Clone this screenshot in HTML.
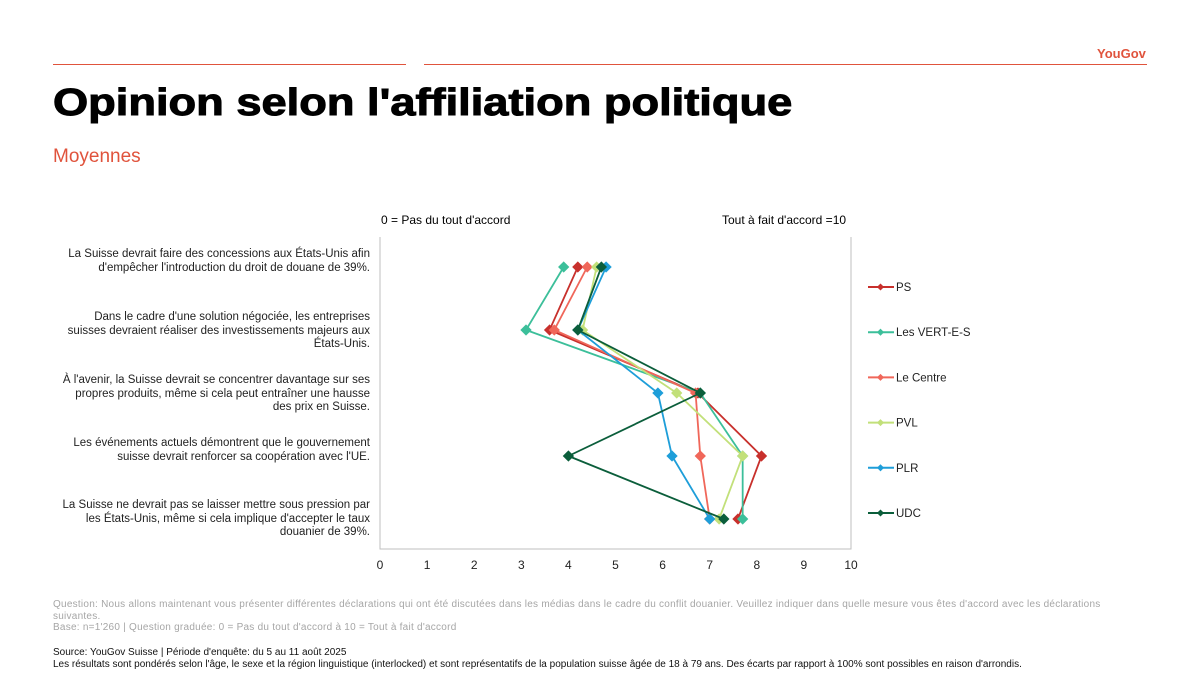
<!DOCTYPE html>
<html><head><meta charset="utf-8"><style>
body{margin:0;width:1200px;height:675px;background:#fff;font-family:"Liberation Sans",Arial,sans-serif;position:relative;overflow:hidden}
.a{position:absolute}
.lbl{position:absolute;right:830px;width:312px;text-align:right;font-size:11.5px;line-height:13.5px;color:#222}
</style></head><body>
<div class="a" style="left:53px;top:64px;width:353px;height:1px;background:#e0533c"></div>
<div class="a" style="left:424px;top:64px;width:723px;height:1px;background:#e0533c"></div>
<div class="a" style="left:1097px;top:46px;font-size:13px;font-weight:bold;color:#e0533c">YouGov</div>
<div class="a" style="left:53px;top:82px;font-size:38px;font-weight:bold;color:#000;transform-origin:0 0;transform:scaleX(1.19);-webkit-text-stroke:1px #000">Opinion selon l'affiliation politique</div>
<div class="a" style="left:53px;top:146px;font-size:19px;color:#e0533c">Moyennes</div>
<div class="a" style="left:381px;top:213px;font-size:12px">0 = Pas du tout d'accord</div>
<div class="a" style="left:722px;top:213px;font-size:12px">Tout à fait d'accord =10</div>
<div class="lbl" style="top:248px">La Suisse devrait faire des concessions aux États-Unis afin d'empêcher l'introduction du droit de douane de 39%.</div>
<div class="lbl" style="top:311px">Dans le cadre d'une solution négociée, les entreprises suisses devraient réaliser des investissements majeurs aux États-Unis.</div>
<div class="lbl" style="top:374px">À l'avenir, la Suisse devrait se concentrer davantage sur ses propres produits, même si cela peut entraîner une hausse des prix en Suisse.</div>
<div class="lbl" style="top:437px">Les événements actuels démontrent que le gouvernement suisse devrait renforcer sa coopération avec l'UE.</div>
<div class="lbl" style="top:499px">La Suisse ne devrait pas se laisser mettre sous pression par les États-Unis, même si cela implique d'accepter le taux douanier de 39%.</div>
<svg class="a" style="left:0;top:0" width="1200" height="675" id="svg"></svg>
<div class="a" style="left:53px;top:599px;width:1090px;font-size:10px;line-height:11.5px;color:#a6a6a6;letter-spacing:0.25px">Question: Nous allons maintenant vous présenter différentes déclarations qui ont été discutées dans les médias dans le cadre du conflit douanier. Veuillez indiquer dans quelle mesure vous êtes d'accord avec les déclarations suivantes.<br>Base: n=1'260 | Question graduée: 0 = Pas du tout d'accord à 10 = Tout à fait d'accord</div>
<div class="a" style="left:53px;top:647px;width:1100px;font-size:10px;line-height:11.5px;color:#111">Source: YouGov Suisse | Période d'enquête: du 5 au 11 août 2025<br>Les résultats sont pondérés selon l'âge, le sexe et la région linguistique (interlocked) et sont représentatifs de la population suisse âgée de 18 à 79 ans. Des écarts par rapport à 100% sont possibles en raison d'arrondis.</div>
<script>
const series=["PS","Les VERT-E-S","Le Centre","PVL","PLR","UDC"];
const colors=["#c8302c","#3cbf9a","#f0675a","#c2e07a","#1e9ed9","#0b5e3b"];
const PS=[4.2,3.6,6.75,8.1,7.6];
const VERT=[3.9,3.1,6.8,7.7,7.7];
const CENTRE=[4.4,3.7,6.7,6.8,7.0];
const PVL=[4.6,4.3,6.3,7.7,7.2];
const PLR=[4.8,4.2,5.9,6.2,7.0];
const UDC=[4.7,4.2,6.8,4.0,7.3];
const ticks=[0,1,2,3,4,5,6,7,8,9,10];
const values=[PS,VERT,CENTRE,PVL,PLR,UDC];
const ns="http://www.w3.org/2000/svg",svg=document.getElementById('svg');
const x=v=>380+v*47.1, y=i=>267+i*63;
function mk(t,a){const e=document.createElementNS(ns,t);for(const k in a)e.setAttribute(k,a[k]);svg.appendChild(e);return e;}
let e=mk('polyline',{points:"380,237 380,549 851,549 851,237",fill:"none",stroke:"#bfbfbf","stroke-width":1});


ticks.forEach(t=>{const l=mk('text',{x:x(t),y:569,"font-size":12,"text-anchor":"middle",fill:"#222","font-family":"Liberation Sans"});l.textContent=t;

});
values.forEach((vals,s)=>{
const g=mk('g',{});


const pl=document.createElementNS(ns,'polyline');
pl.setAttribute('points',vals.map((v,i)=>x(v)+','+y(i)).join(' '));
pl.setAttribute('fill','none');pl.setAttribute('stroke',colors[s]);pl.setAttribute('stroke-width',1.8);


g.appendChild(pl);
vals.forEach((v,i)=>{const p=document.createElementNS(ns,'rect');
p.setAttribute('x',x(v)-4);p.setAttribute('y',y(i)-4);p.setAttribute('width',8);p.setAttribute('height',8);
p.setAttribute('fill',colors[s]);p.setAttribute('transform',`rotate(45 ${x(v)} ${y(i)})`);


g.appendChild(p);});
const ly=287+s*45.2;
const lg=mk('g',{});


const ln=document.createElementNS(ns,'line');ln.setAttribute('x1',868);ln.setAttribute('x2',894);ln.setAttribute('y1',ly);ln.setAttribute('y2',ly);ln.setAttribute('stroke',colors[s]);ln.setAttribute('stroke-width',2);lg.appendChild(ln);
const d=document.createElementNS(ns,'rect');d.setAttribute('x',878);d.setAttribute('y',ly-2.5);d.setAttribute('width',5);d.setAttribute('height',5);d.setAttribute('fill',colors[s]);d.setAttribute('transform',`rotate(45 880.5 ${ly})`);lg.appendChild(d);
const tx=document.createElementNS(ns,'text');tx.setAttribute('x',896);tx.setAttribute('y',ly+4);tx.setAttribute('font-size',11.5);tx.setAttribute('font-family','Liberation Sans');tx.setAttribute('fill','#222');tx.textContent=series[s];lg.appendChild(tx);
});
</script>
</body></html>
